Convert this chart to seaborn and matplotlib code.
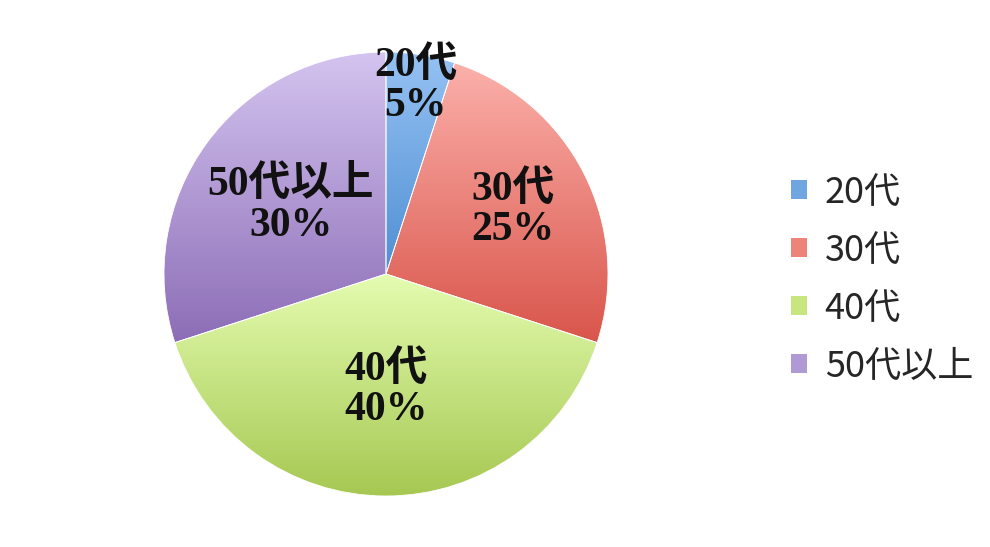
import numpy as np
import matplotlib
matplotlib.use("Agg")
import matplotlib.pyplot as plt
from matplotlib.colors import LinearSegmentedColormap
from matplotlib.patches import Patch
import seaborn as sns

categories = ["20代", "30代", "40代", "50代以上"]
shares = [5, 25, 40, 30]

top_colors = ["#96c2f4", "#fbb0aa", "#e4fcb0", "#d4c4f0"]
bottom_colors = ["#4f8fd2", "#d9554b", "#a6c852", "#8c6db6"]
mid_colors = ["#6fa6e2", "#ec847b", "#c8e67f", "#b09ad6"]
label_radius = [0.86, 0.64, 0.52, 0.53]

sns.set_theme(style="white")
plt.rcParams["font.family"] = ["Noto Sans CJK JP", "DejaVu Sans"]

fig = plt.figure(figsize=(9.9, 5.47), dpi=100)
ax = fig.add_axes([164 / 990, 51 / 547, 444 / 990, 444 / 547])

wedges, _ = ax.pie(shares, startangle=90, counterclock=False, radius=1.0,
                   wedgeprops=dict(linewidth=0.6, edgecolor="#ffffff"))

for w, c_top, c_bot in zip(wedges, top_colors, bottom_colors):
    t1, t2 = np.deg2rad(w.theta1), np.deg2rad(w.theta2)
    th = np.linspace(t1, t2, 200)
    ys = np.concatenate([np.sin(th), [0.0]])
    ymin, ymax = ys.min(), ys.max()
    cmap = LinearSegmentedColormap.from_list("g", [c_bot, c_top])
    grad = np.linspace(0, 1, 256).reshape(-1, 1)
    w.set_facecolor("none")
    im = ax.imshow(grad, cmap=cmap, origin="lower", aspect="auto",
                   extent=[-1, 1, ymin, ymax], zorder=1)
    im.set_clip_path(w)
    w.set_zorder(2)

label_font = ["Liberation Serif", "Noto Sans CJK JP"]
for w, cat, val, r in zip(wedges, categories, shares, label_radius):
    mid = np.deg2rad((w.theta1 + w.theta2) / 2)
    x, y = r * np.cos(mid), r * np.sin(mid)
    ax.text(x, y, f"{cat}\n{val}%", ha="center", va="center",
            fontsize=30, fontweight="bold", family=label_font,
            linespacing=1.1, color="#111111", zorder=5)

ax.set_xlim(-1, 1)
ax.set_ylim(-1, 1)
ax.set_aspect("auto")
ax.axis("off")

handles = [Patch(facecolor=c, edgecolor="none") for c in mid_colors]
fig.legend(handles, categories, loc="center left", bbox_to_anchor=(777 / 990, 1 - 279.5 / 547),
           frameon=False, fontsize=26, handlelength=0.42, handleheight=0.42,
           handletextpad=0.5, labelspacing=0.61, borderaxespad=0)

fig.savefig("out.png", dpi=100, facecolor="white")
